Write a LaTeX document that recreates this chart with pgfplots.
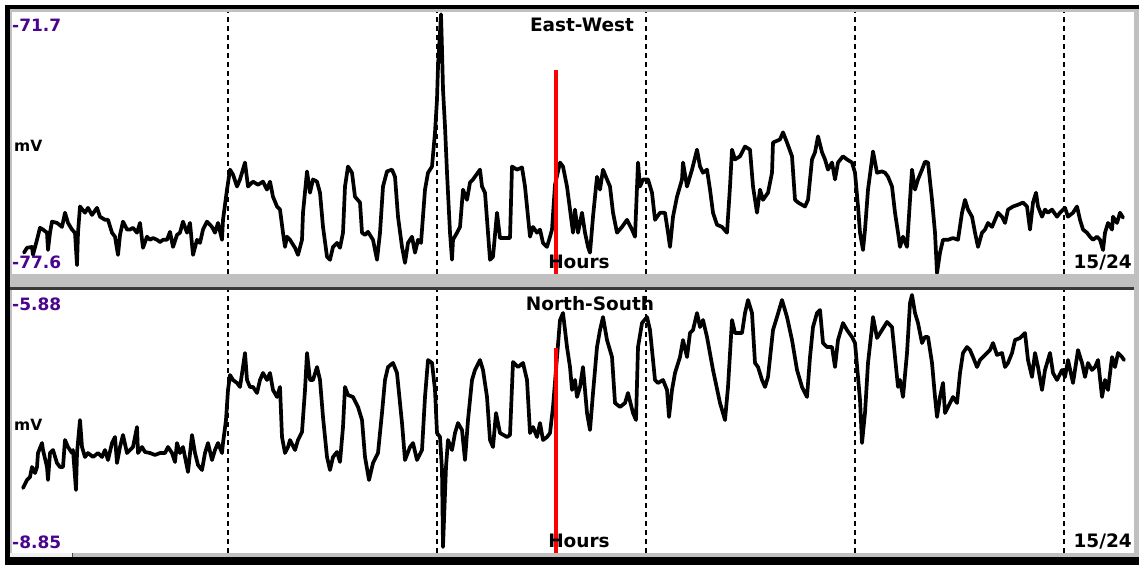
\documentclass[border=0pt]{standalone}
\usepackage{fontspec}
\setmainfont{DejaVu Sans}
\usepackage{pgfplots}
\usepackage{pgfplotstable}
\pgfplotsset{compat=1.18}
\definecolor{labpurple}{RGB}{75,5,140}
\definecolor{winface}{RGB}{192,192,192}

% East-West (mV) vs sample index
\pgfplotstableread{
x y
5 -77.12
8 -77.01
13 -76.99
14 -77.17
18 -76.83
21 -76.56
24 -76.60
28 -76.67
29 -77.06
31 -76.67
33 -76.42
38 -76.45
43 -76.54
46 -76.22
49 -76.45
53 -76.60
56 -76.67
58 -77.40
59 -76.67
61 -76.08
66 -76.22
69 -76.11
73 -76.27
78 -76.11
81 -76.31
86 -76.38
89 -76.38
93 -76.67
96 -76.76
99 -77.17
101 -76.72
104 -76.42
108 -76.60
111 -76.60
114 -76.56
118 -76.67
121 -76.45
124 -77.01
128 -76.76
131 -76.83
134 -76.79
138 -76.83
141 -76.88
144 -76.83
148 -76.83
151 -76.65
154 -76.99
158 -76.72
161 -76.67
164 -76.42
168 -76.67
171 -76.45
174 -77.17
178 -76.83
181 -76.90
184 -76.60
188 -76.42
193 -76.54
196 -76.67
199 -76.45
203 -76.83
204 -76.38
208 -75.70
211 -75.25
214 -75.36
218 -75.63
221 -75.47
226 -75.09
229 -75.63
234 -75.52
239 -75.59
244 -75.52
248 -75.70
251 -75.52
254 -75.86
258 -76.08
261 -76.15
264 -76.67
266 -76.99
268 -76.76
271 -76.83
276 -77.01
279 -77.17
283 -76.83
284 -76.22
288 -75.29
291 -75.77
294 -75.47
298 -75.52
301 -75.77
304 -76.54
308 -77.21
311 -77.28
314 -76.99
318 -76.90
321 -77.01
324 -76.67
326 -75.63
329 -75.18
333 -75.32
336 -75.86
341 -75.99
343 -76.67
346 -76.72
349 -76.65
354 -76.83
358 -77.28
361 -76.67
364 -75.63
368 -75.29
373 -75.25
376 -75.41
379 -76.31
383 -76.99
386 -77.35
389 -76.90
393 -76.76
396 -77.12
399 -76.83
402 -76.90
406 -75.70
409 -75.32
413 -75.18
416 -74.41
418 -73.67
419 -72.92
421 -72.15
422 -71.75
423 -72.54
424 -73.44
426 -74.28
428 -75.32
431 -76.67
433 -77.28
434 -76.83
438 -76.67
441 -76.54
444 -75.70
448 -75.93
451 -75.54
454 -75.47
461 -75.25
463 -75.63
466 -75.77
469 -76.67
471 -77.28
474 -77.21
478 -76.22
481 -76.79
491 -76.79
493 -75.18
498 -75.25
503 -75.20
506 -75.63
509 -76.31
511 -76.76
514 -76.54
518 -76.67
521 -76.60
524 -76.90
528 -76.99
531 -76.76
533 -76.60
536 -75.59
541 -75.09
544 -75.18
548 -75.63
551 -76.15
554 -76.67
556 -76.15
559 -76.67
563 -76.22
566 -76.67
569 -76.99
571 -77.12
574 -76.31
578 -75.41
581 -75.70
584 -75.25
588 -75.47
591 -75.63
594 -76.22
598 -76.67
603 -76.54
608 -76.38
613 -76.60
616 -76.76
619 -75.09
621 -75.63
624 -75.47
629 -75.47
633 -75.77
636 -76.38
641 -76.22
646 -76.22
649 -76.67
651 -76.99
654 -76.31
658 -75.86
663 -75.47
664 -75.09
668 -75.63
673 -75.25
678 -74.80
681 -75.18
684 -75.32
688 -75.25
691 -75.70
694 -76.22
698 -76.49
703 -76.54
708 -76.67
711 -75.63
713 -74.80
716 -75.02
721 -74.95
726 -74.73
731 -74.80
734 -75.63
738 -76.22
741 -75.70
744 -75.93
749 -75.77
753 -75.32
754 -74.64
761 -74.57
764 -74.41
768 -74.64
773 -74.95
776 -75.93
779 -75.99
786 -76.08
789 -75.93
793 -75.02
796 -74.86
799 -74.50
803 -74.86
806 -75.02
809 -75.25
813 -75.09
816 -75.47
819 -75.09
824 -74.95
828 -75.02
833 -75.09
836 -75.32
839 -76.08
841 -76.67
844 -77.06
846 -76.60
849 -75.70
853 -75.02
854 -74.84
858 -75.32
863 -75.29
866 -75.32
869 -75.41
873 -75.63
876 -76.22
879 -76.67
881 -76.99
884 -76.76
888 -76.99
891 -75.93
893 -75.25
896 -75.70
899 -75.47
903 -75.25
906 -75.07
909 -75.09
913 -75.93
916 -76.67
918 -77.58
921 -77.12
924 -76.83
929 -76.83
934 -76.79
939 -76.83
943 -76.22
946 -75.93
949 -76.15
953 -76.31
956 -76.67
959 -76.99
963 -76.67
966 -76.60
969 -76.45
973 -76.54
976 -76.38
979 -76.22
983 -76.31
986 -76.45
989 -76.15
994 -76.08
999 -76.04
1004 -75.99
1008 -76.08
1011 -76.60
1014 -75.99
1017 -75.77
1019 -76.08
1023 -76.31
1026 -76.15
1029 -76.22
1033 -76.15
1038 -76.31
1041 -76.22
1046 -76.11
1049 -76.31
1054 -76.22
1058 -76.08
1061 -76.38
1064 -76.60
1068 -76.67
1071 -76.76
1074 -76.83
1078 -76.76
1081 -76.83
1084 -77.06
1086 -76.67
1089 -76.45
1093 -76.60
1094 -76.31
1098 -76.45
1101 -76.22
1104 -76.33
}\ewdata

% North-South (mV) vs sample index
\pgfplotstableread{
x y
4 -8.116
8 -8.026
11 -7.992
13 -7.879
16 -7.947
18 -7.879
19 -7.721
23 -7.608
24 -7.687
28 -7.879
29 -8.026
31 -7.721
34 -7.687
38 -7.834
41 -7.879
44 -7.879
46 -7.574
49 -7.653
53 -7.721
54 -7.687
57 -8.139
58 -7.721
61 -7.348
63 -7.653
66 -7.766
69 -7.721
74 -7.766
79 -7.721
83 -7.766
86 -7.687
89 -7.800
93 -7.608
96 -7.540
98 -7.834
101 -7.653
104 -7.517
108 -7.721
111 -7.687
114 -7.653
118 -7.427
119 -7.721
123 -7.653
126 -7.709
131 -7.721
136 -7.743
141 -7.721
146 -7.721
149 -7.653
153 -7.721
156 -7.822
158 -7.608
161 -7.721
164 -7.653
169 -7.935
173 -7.517
176 -7.721
179 -7.856
183 -7.913
186 -7.721
189 -7.608
193 -7.800
196 -7.687
199 -7.608
203 -7.721
204 -7.608
207 -7.348
209 -7.009
211 -6.840
214 -6.896
218 -6.930
221 -6.975
224 -6.750
226 -6.591
228 -6.896
231 -6.975
234 -6.975
238 -7.043
241 -6.896
244 -6.817
248 -6.896
251 -6.817
254 -7.009
258 -7.088
261 -6.975
263 -7.540
266 -7.721
269 -7.653
271 -7.574
276 -7.687
279 -7.574
283 -7.484
286 -7.009
288 -6.591
291 -6.896
294 -6.896
298 -6.750
301 -6.896
304 -7.314
308 -7.766
311 -7.913
314 -7.766
318 -7.709
321 -7.822
324 -7.427
326 -6.975
329 -7.066
334 -7.088
339 -7.201
343 -7.348
346 -7.766
350 -8.026
354 -7.834
359 -7.721
363 -7.269
366 -6.896
369 -6.750
374 -6.704
378 -6.817
383 -7.382
386 -7.800
391 -7.653
394 -7.608
398 -7.800
403 -7.687
406 -7.088
409 -6.671
413 -6.704
416 -7.009
418 -7.495
421 -7.540
423 -7.913
424 -8.782
425 -8.477
427 -7.879
429 -7.574
433 -7.687
436 -7.495
439 -7.382
443 -7.461
446 -7.800
449 -7.348
453 -6.896
456 -6.783
461 -6.671
464 -6.783
468 -7.088
471 -7.574
474 -7.653
477 -7.269
481 -7.495
488 -7.540
491 -7.517
494 -6.693
499 -6.750
504 -6.704
508 -6.896
511 -7.495
514 -7.427
518 -7.540
521 -7.382
524 -7.574
528 -7.540
531 -7.495
534 -7.201
538 -6.637
541 -6.219
544 -6.140
546 -6.332
548 -6.524
551 -6.750
553 -7.009
556 -6.896
558 -7.088
561 -6.975
564 -6.750
568 -7.269
571 -7.461
574 -7.043
578 -6.524
581 -6.332
584 -6.185
588 -6.445
593 -6.637
596 -7.156
601 -7.201
606 -7.156
609 -7.043
614 -7.269
617 -7.348
619 -6.524
623 -6.253
628 -6.185
631 -6.332
636 -6.896
639 -6.930
644 -6.896
648 -7.009
650 -7.314
653 -7.009
656 -6.817
661 -6.637
664 -6.445
668 -6.637
671 -6.366
674 -6.332
678 -6.140
681 -6.298
684 -6.219
688 -6.411
694 -6.783
701 -7.156
706 -7.348
709 -6.975
713 -6.219
716 -6.366
723 -6.366
726 -6.140
729 -5.993
733 -6.140
736 -6.704
739 -6.750
743 -6.896
746 -6.975
749 -6.862
754 -6.332
758 -6.185
763 -5.993
768 -6.185
773 -6.445
778 -6.783
783 -6.975
788 -7.088
791 -6.637
794 -6.298
798 -6.140
801 -6.106
804 -6.479
808 -6.524
813 -6.524
816 -6.750
819 -6.445
824 -6.253
828 -6.332
833 -6.411
836 -6.479
839 -6.862
841 -7.122
843 -7.608
846 -7.269
849 -6.704
853 -6.298
854 -6.185
858 -6.422
863 -6.332
868 -6.241
873 -6.298
876 -6.637
879 -6.975
881 -6.896
884 -7.088
888 -6.591
891 -6.027
893 -5.936
896 -6.140
899 -6.253
903 -6.479
906 -6.411
909 -6.411
913 -6.704
916 -7.088
918 -7.314
921 -7.088
924 -6.930
926 -7.269
931 -7.156
934 -7.088
938 -7.156
941 -6.817
944 -6.591
948 -6.524
951 -6.558
954 -6.637
958 -6.750
961 -6.671
966 -6.614
971 -6.558
974 -6.479
978 -6.614
983 -6.591
986 -6.750
989 -6.704
993 -6.591
996 -6.445
1001 -6.422
1006 -6.366
1009 -6.671
1013 -6.862
1016 -6.591
1019 -6.750
1023 -7.009
1026 -6.783
1031 -6.591
1034 -6.817
1038 -6.896
1043 -6.783
1046 -6.862
1049 -6.671
1054 -6.930
1059 -6.558
1063 -6.704
1066 -6.862
1069 -6.704
1073 -6.783
1076 -6.750
1079 -6.671
1083 -7.088
1086 -6.896
1089 -7.009
1093 -6.637
1096 -6.750
1099 -6.591
1103 -6.637
1105 -6.671
}\nsdata

\pgfplotsset{
  panel/.style={
    scale only axis, anchor=south west, width=1122pt,
    xmin=-7, xmax=1115,
    axis line style={draw=none}, tick style={draw=none},
    xtick={209,418,627,836,1045}, xticklabels={}, ytick=\empty,
    xmajorgrids,
    major grid style={black, line width=1.1pt, dash pattern=on 5pt off 4pt},
    clip=true,
  },
  trace/.style={black, line width=3.7pt, line join=round, line cap=round},
}
\newcommand\lblbig{\fontsize{18.5}{20}\selectfont\bfseries}
\newcommand\lblnum{\fontsize{17}{18}\selectfont\bfseries}
\newcommand\lblunit{\fontsize{15.5}{17}\selectfont\bfseries}

\begin{document}
\begin{tikzpicture}
\begin{scope}[x=1pt,y=1pt]
\useasboundingbox (0,0) rectangle (1139,565);
\fill[white] (0,0) rectangle (1139,565);
\fill[black] (5,0) rectangle (1139,560);
\fill[winface] (10,8) rectangle (1139,556);
\fill[white!88!gray] (10,8) rectangle (72,12);
\draw[gray!60!black, line width=1pt] (72.5,8) -- (72.5,12);
\fill[gray!45!black] (10,275) rectangle (1134,278);
\fill[white] (12,291) rectangle (1134,553);
\fill[white] (12,12) rectangle (1134,275);
\end{scope}

\begin{axis}[panel, at={(12pt,291pt)}, height=262pt, ymin=-77.6, ymax=-71.7]
  \addplot[trace] table[x=x,y=y] {\ewdata};
  \addplot[red, line width=4.5pt] coordinates {(537,-77.6) (537,-73.01)};
\end{axis}

\begin{axis}[panel, at={(12pt,12pt)}, height=263pt, ymin=-8.85, ymax=-5.88]
  \addplot[trace] table[x=x,y=y] {\nsdata};
  \addplot[red, line width=4.5pt] coordinates {(537,-8.85) (537,-6.535)};
\end{axis}

\begin{scope}[x=1pt,y=1pt]
% top panel labels
\node[anchor=base west, inner sep=0, text=labpurple, font=\lblnum] at (12,533) {-71.7};
\node[anchor=base west, inner sep=0, text=labpurple, font=\lblnum] at (12,296) {-77.6};
\node[anchor=base west, inner sep=0, font=\lblunit] at (14,413) {mV};
\node[anchor=base, inner sep=0, font=\lblbig] at (582,533) {East-West};
\node[anchor=base, inner sep=0, font=\lblbig] at (579,296) {Hours};
\node[anchor=base east, inner sep=0, font=\lblbig] at (1132,296) {15/24};
% bottom panel labels
\node[anchor=base west, inner sep=0, text=labpurple, font=\lblnum] at (12,254) {-5.88};
\node[anchor=base west, inner sep=0, text=labpurple, font=\lblnum] at (12,17) {-8.85};
\node[anchor=base west, inner sep=0, font=\lblunit] at (14,135) {mV};
\node[anchor=base, inner sep=0, font=\lblbig] at (590,254) {North-South};
\node[anchor=base, inner sep=0, font=\lblbig] at (579,18) {Hours};
\node[anchor=base east, inner sep=0, font=\lblbig] at (1132,18) {15/24};
\end{scope}
\end{tikzpicture}
\end{document}
